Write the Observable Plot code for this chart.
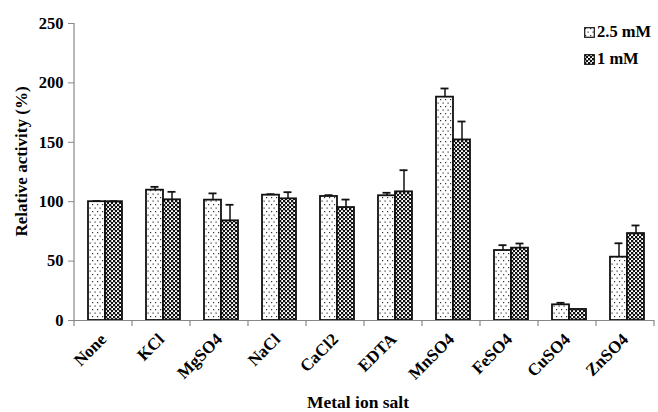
<!DOCTYPE html>
<html><head><meta charset="utf-8">
<script src="https://cdn.jsdelivr.net/npm/d3@7"></script>
<script src="https://cdn.jsdelivr.net/npm/@observablehq/plot@0.6"></script>
<style>
body{margin:0;background:#fff;}
#wrap{position:relative;width:658px;height:412px;}
.legend{position:absolute;left:584px;font:bold 16.5px "Liberation Serif",serif;color:#000;display:flex;align-items:center;white-space:nowrap;}
.legend svg{margin-right:2px;}
</style></head><body><div id="wrap"></div>
<script>
const categories = ["None","KCl","MgSO4","NaCl","CaCl2","EDTA","MnSO4","FeSO4","CuSO4","ZnSO4"];
const series = ["2.5 mM","1 mM"];
const values25 = [100,109.7,101.3,105.5,104.4,105,188,58.9,13.2,53.3];
const errors25 = [0.5,2.8,5.7,0.8,1.1,2.5,7.3,4.5,1.7,11.7];
const values1 = [100,101.6,83.9,102.4,95.1,108.3,152,60.9,9.3,73.2];
const errors1 = [0.4,6.7,13.5,5.6,6.7,18.2,15.5,3.9,0,6.8];
const yTicks = [0,50,100,150,200,250];
const xTitle = "Metal ion salt";
const yTitle = "Relative activity (%)";

const data = categories.flatMap((c,i)=>[
  {cat:c, s:series[0], v:values25[i], e:errors25[i]},
  {cat:c, s:series[1], v:values1[i], e:errors1[i]}
]);
const withErr = data.filter(d=>d.e>0).map(d=>({...d, hi:d.v+d.e}));
const fills = {"2.5 mM":"url(#dots)","1 mM":"url(#checks)"};

const font = '"Liberation Serif", "Times New Roman", serif';
const plot = Plot.plot({
  width:658, height:412,
  marginLeft:73, marginRight:3, marginTop:23, marginBottom:92,
  style:{fontFamily:font, fontWeight:"bold", fontSize:"16px", color:"#000", background:"#fff"},
  fx:{domain:categories, padding:0, label:null},
  x:{domain:series, padding:0, insetLeft:14, insetRight:10, axis:null},
  y:{domain:[0,250], label:null},
  marks:[
    Plot.axisY({ticks:yTicks, tickSize:6, tickPadding:5, stroke:"#888", label:null, fontSize:16.5}),
    Plot.axisFx({anchor:"bottom", tickRotate:-45, tickSize:0, tickPadding:16, label:null, fontSize:17}),
    Plot.barY(data, {fx:"cat", x:"s", y:"v", fill:d=>fills[d.s], stroke:"#111", strokeWidth:1.8}),
    Plot.ruleX(withErr, {fx:"cat", x:"s", y1:"v", y2:"hi", stroke:"#111", strokeWidth:1.5}),
    Plot.tickY(withErr, {fx:"cat", x:"s", y:"hi", stroke:"#111", strokeWidth:1.8, insetLeft:4.5, insetRight:4.5}),
    Plot.ruleY([0], {stroke:"#888", strokeWidth:1.2})
  ]
});

const svg = d3.select(plot);
const defs = svg.insert("defs", ":first-child");
const p1 = defs.append("pattern").attr("id","dots").attr("patternUnits","userSpaceOnUse").attr("width",5).attr("height",7);
p1.append("rect").attr("width",5).attr("height",7).attr("fill","#fff");
p1.append("rect").attr("x",1).attr("y",1).attr("width",1.2).attr("height",1.2).attr("fill","#333");
p1.append("rect").attr("x",3.5).attr("y",4.5).attr("width",1.2).attr("height",1.2).attr("fill","#333");
const p2 = defs.append("pattern").attr("id","checks").attr("patternUnits","userSpaceOnUse").attr("width",4).attr("height",4);
p2.append("rect").attr("width",4).attr("height",4).attr("fill","#fff");
p2.append("rect").attr("x",0).attr("y",0).attr("width",2.3).attr("height",2.3).attr("fill","#111");
p2.append("rect").attr("x",2).attr("y",2).attr("width",2.3).attr("height",2.3).attr("fill","#111");

// axis lines and category boundary ticks from the library's scales
const fx = plot.scale("fx"), y = plot.scale("y");
const y0 = y.apply(0), yTop = y.apply(250);
const left = fx.apply(categories[0]);
const right = fx.apply(categories[categories.length-1]) + fx.bandwidth;
svg.append("line").attr("x1",left).attr("x2",left).attr("y1",yTop).attr("y2",y0).attr("stroke","#888").attr("stroke-width",1.2);
const bounds = categories.map(c=>fx.apply(c)).concat([right]);
svg.append("g").selectAll("line").data(bounds).join("line")
  .attr("x1",d=>d).attr("x2",d=>d).attr("y1",y0).attr("y2",y0+6).attr("stroke","#888").attr("stroke-width",1.2);
svg.append("text").attr("x",(left+right)/2 - 6).attr("y",408).attr("text-anchor","middle")
  .attr("font-family",font).attr("font-weight","bold").attr("font-size",17.5).text(xTitle);
svg.append("text").attr("transform",`translate(27,${(yTop+y0)/2-10}) rotate(-90)`).attr("text-anchor","middle")
  .attr("font-family",font).attr("font-weight","bold").attr("font-size",17).text(yTitle);

const wrap = document.getElementById("wrap");
wrap.appendChild(plot);
series.forEach((s,i)=>{
  const div = document.createElement("div");
  div.className = "legend";
  div.style.top = (22 + i*27) + "px";
  div.innerHTML = `<svg width="11" height="11"><rect x="0.7" y="0.7" width="9.6" height="9.6" fill="${fills[s]}" stroke="#111" stroke-width="1.2"/></svg>`;
  const span = document.createElement("span");
  span.textContent = s;
  div.appendChild(span);
  wrap.appendChild(div);
});
</script></body></html>
